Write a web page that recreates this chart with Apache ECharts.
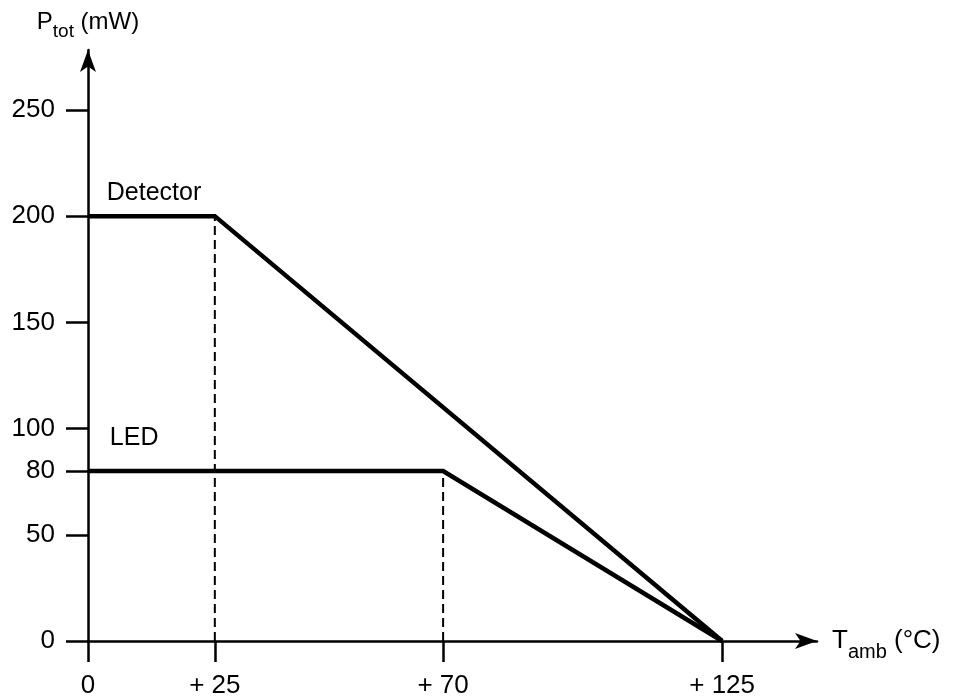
<!DOCTYPE html>
<html>
<head>
<meta charset="utf-8">
<script src="https://cdn.jsdelivr.net/npm/echarts@6/dist/echarts.min.js"></script>
<style>html,body{margin:0;padding:0;background:#fff}#c{width:955px;height:699px}</style>
</head>
<body>
<div id="c"></div>
<script>
const xTicks = [0, 25, 70, 125];
const yTicks = [0, 50, 80, 100, 150, 200, 250];
const detectorT = [0, 25, 125];
const detectorP = [200, 200, 0];
const ledT = [0, 70, 125];
const ledP = [80, 80, 0];
const dashDetT = [25, 25];
const dashDetP = [0, 200];
const dashLedT = [70, 70];
const dashLedP = [0, 80];

const FONT = 'Liberation Sans, Arial, Helvetica, sans-serif';
const pairs = (xs, ys) => xs.map((x, i) => [x, ys[i]]);

const chart = echarts.init(document.getElementById('c'), null, {renderer: 'canvas'});
const axisLineStyle = {color: '#000', width: 2.5};
chart.setOption({
  animation: false,
  backgroundColor: '#fff',
  grid: {left: 88, right: 138, top: 50, bottom: 57, containLabel: false},
  xAxis: {
    type: 'value', min: 0, max: 143.7,
    name: '{m|T}{s|amb}{m| (°C)}',
    nameLocation: 'end', nameGap: 15,
    nameTextStyle: {rich: {
      m: {fontFamily: FONT, fontSize: 26, color: '#000'},
      s: {fontFamily: FONT, fontSize: 20, color: '#000', verticalAlign: 'bottom', padding: [0,0,-8,0]}
    }},
    axisLine: {show: true, onZero: true, lineStyle: axisLineStyle, symbol: ['none', 'arrow'], symbolSize: [12, 22]},
    axisTick: {show: true, length: 21, lineStyle: axisLineStyle, customValues: xTicks},
    axisLabel: {show: true, margin: 32, fontFamily: FONT, fontSize: 26, color: '#000', customValues: xTicks,
      formatter: v => v === 0 ? '0' : '+ ' + v},
    splitLine: {show: false}
  },
  yAxis: {
    type: 'value', min: 0, max: 278.2,
    name: '{m|P}{s|tot}{m| (mW)}',
    nameLocation: 'end', nameGap: 16,
    nameTextStyle: {align: 'center', rich: {
      m: {fontFamily: FONT, fontSize: 24, color: '#000'},
      s: {fontFamily: FONT, fontSize: 19, color: '#000', verticalAlign: 'bottom', padding: [0,0,-7,0]}
    }},
    axisLine: {show: true, onZero: true, lineStyle: axisLineStyle, symbol: ['none', 'arrow'], symbolSize: [12, 22]},
    axisTick: {show: true, length: 22, lineStyle: axisLineStyle, customValues: yTicks},
    axisLabel: {show: true, margin: 33, fontFamily: FONT, fontSize: 26, color: '#000', customValues: yTicks},
    splitLine: {show: false}
  },
  series: [
    {type: 'line', data: pairs(dashDetT, dashDetP), symbol: 'none', lineStyle: {color: '#000', width: 2, type: [9, 5]}, z: 1},
    {type: 'line', data: pairs(dashLedT, dashLedP), symbol: 'none', lineStyle: {color: '#000', width: 2, type: [9, 5]}, z: 1},
    {type: 'line', name: 'Detector', data: pairs(detectorT, detectorP), symbol: 'none', lineStyle: {color: '#000', width: 4.5, join: 'miter'}, z: 3},
    {type: 'line', name: 'LED', data: pairs(ledT, ledP), symbol: 'none', lineStyle: {color: '#000', width: 4.5, join: 'miter'}, z: 3}
  ]
});

const pD = chart.convertToPixel({gridIndex: 0}, [3.7, 200]);
const pL = chart.convertToPixel({gridIndex: 0}, [4.3, 80]);
chart.setOption({
  graphic: [
    {type: 'text', x: pD[0], y: pD[1] - 11, style: {text: 'Detector', font: '25px ' + FONT, fill: '#000', textAlign: 'left', textVerticalAlign: 'bottom'}},
    {type: 'text', x: pL[0], y: pL[1] - 20, style: {text: 'LED', font: '25px ' + FONT, fill: '#000', textAlign: 'left', textVerticalAlign: 'bottom'}}
  ]
});
</script>
</body>
</html>
